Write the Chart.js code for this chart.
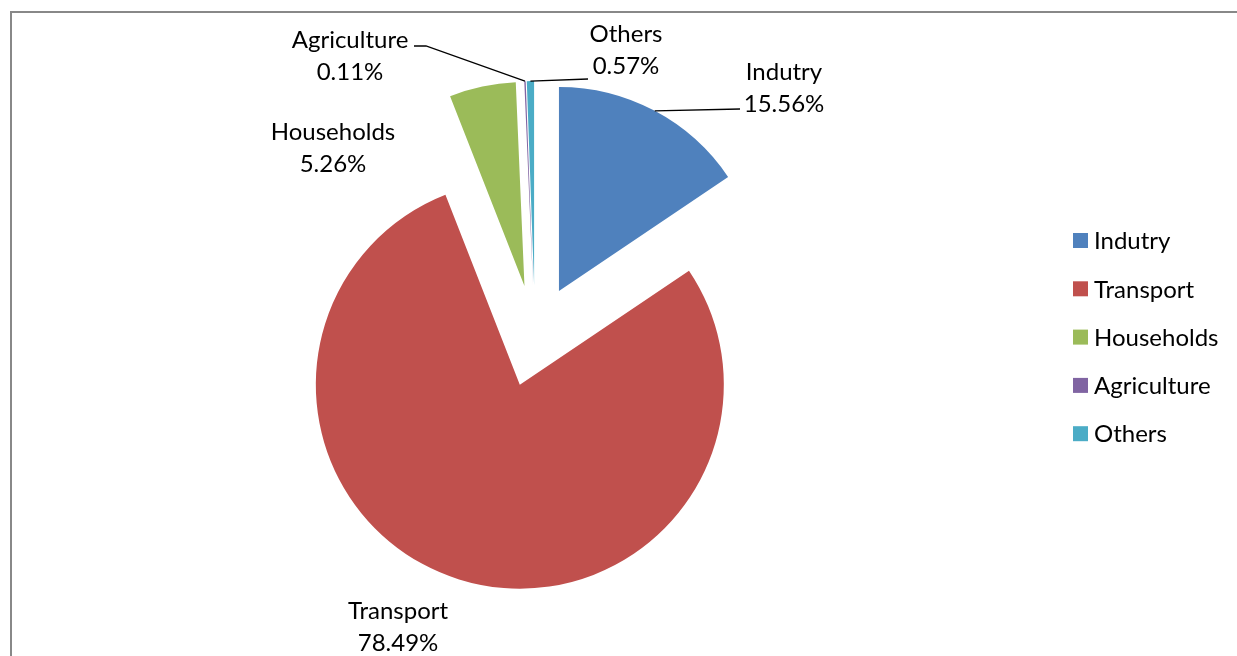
<!DOCTYPE html>
<html><head><meta charset="utf-8">
<script src="https://cdn.jsdelivr.net/npm/chart.js@4"></script>
<style>html,body{margin:0;padding:0;background:#fff;overflow:hidden}#wrap{position:relative;width:1237px;height:656px}</style>
</head><body><div id="wrap"><canvas id="c"></canvas></div>
<script>
// ---- data ----
const categories = ['Indutry', 'Transport', 'Households', 'Agriculture', 'Others'];
const shares = [15.56, 78.49, 5.26, 0.11, 0.57];
const colors = ['#4F81BD', '#C0504D', '#9BBB59', '#8064A2', '#4BACC6'];

// ---- style / layout ----
const FONT = '24px Lato';
const LINE_H = 32;
const EXPLODE = 51;
const RADIUS = 204;
// text label centers (first line) and leader-line waypoints (from label side)
const labelLayout = [
  {x: 784, y: 72, leader: [[740, 109]]},
  {x: 398, y: 611, leader: null},
  {x: 333, y: 132, leader: null},
  {x: 350, y: 40, leader: [[426, 46], [414, 46]]},
  {x: 626, y: 34, leader: [[588, 79]]}
];
const legendLayout = {box: 15, x: 1073, y: 240.5, gap: 48.3, textX: 1094};

const explodePlugin = {
  id: 'explode',
  beforeDraw(chart) {
    const ctx = chart.ctx;
    ctx.save();
    ctx.strokeStyle = '#888888';
    ctx.lineWidth = 2;
    ctx.strokeRect(11, 12, 1400, 800);
    ctx.restore();
  },
  beforeDatasetDraw(chart, args) {
    const ctx = chart.ctx;
    args.meta.data.forEach(arc => {
      const half = (arc.startAngle + arc.endAngle) / 2;
      ctx.save();
      ctx.translate(Math.cos(half) * EXPLODE, Math.sin(half) * EXPLODE);
      arc.draw(ctx);
      ctx.restore();
    });
    return false;
  },
  afterDraw(chart) {
    const ctx = chart.ctx;
    const meta = chart.getDatasetMeta(0);
    ctx.save();
    ctx.font = FONT;
    ctx.fillStyle = '#000';
    ctx.textAlign = 'center';
    ctx.textBaseline = 'middle';
    meta.data.forEach((arc, i) => {
      const L = labelLayout[i];
      const half = (arc.startAngle + arc.endAngle) / 2;
      const r = arc.outerRadius + EXPLODE;
      const px = arc.x + Math.cos(half) * r;
      const py = arc.y + Math.sin(half) * r;
      if (L.leader) {
        ctx.beginPath();
        ctx.strokeStyle = '#000';
        ctx.lineWidth = 1.3;
        ctx.moveTo(px, py);
        L.leader.forEach(p => ctx.lineTo(p[0], p[1]));
        ctx.stroke();
      }
      ctx.fillText(categories[i], L.x, L.y);
      ctx.fillText(shares[i].toFixed(2) + '%', L.x, L.y + LINE_H);
    });
    // legend
    ctx.textAlign = 'left';
    categories.forEach((c, i) => {
      const cy = legendLayout.y + i * legendLayout.gap;
      ctx.fillStyle = colors[i];
      ctx.fillRect(legendLayout.x, cy - legendLayout.box / 2, legendLayout.box, legendLayout.box);
      ctx.fillStyle = '#000';
      ctx.fillText(c, legendLayout.textX, cy + 1);
    });
    ctx.restore();
  }
};

new Chart(document.getElementById('c'), {
  type: 'pie',
  data: {
    labels: categories,
    datasets: [{
      data: shares,
      backgroundColor: colors,
      borderWidth: 0,
      hoverOffset: 0,
      offset: 0
    }]
  },
  options: {
    responsive: true,
    maintainAspectRatio: false,
    animation: false,
    radius: RADIUS,
    layout: {padding: {left: 0, right: 167, top: 16, bottom: 0}},
    plugins: {legend: {display: false}, tooltip: {enabled: false}}
  },
  plugins: [explodePlugin]
});
</script></body></html>
